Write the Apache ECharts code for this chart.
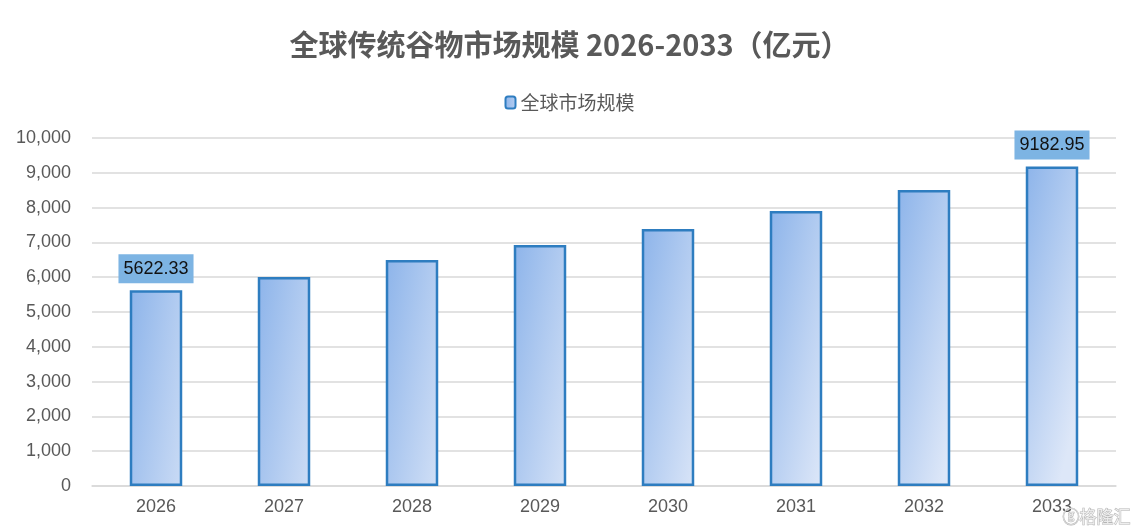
<!DOCTYPE html>
<html><head><meta charset="utf-8">
<script src="https://cdn.jsdelivr.net/npm/echarts@6/dist/echarts.min.js"></script>
<style>html,body{margin:0;padding:0;background:#fff}#c{width:1139px;height:532px}</style>
</head><body><div id="c"></div>
<script>
const categories = ['2026','2027','2028','2029','2030','2031','2032','2033'];
const marketSize = [5622.33, 6005, 6495, 6925, 7385, 7900, 8505, 9182.95];
const labeledIdx = [0, 7];
const chart = echarts.init(document.getElementById('c'));
const font = '"Microsoft YaHei","Noto Sans CJK SC",Arial,sans-serif';
const latin = 'Arial,"Liberation Sans",sans-serif';
chart.setOption({
  animation:false,
  title:{text:'全球传统谷物市场规模 2026-2033（亿元）',left:'center',top:25,
    textStyle:{fontSize:29,fontWeight:'bold',color:'#595959',fontFamily:font}},
  legend:{top:88,left:'center',itemWidth:10,itemHeight:12,itemGap:4,
    textStyle:{fontSize:19,color:'#595959',fontFamily:font},
    data:['全球市场规模']},
  grid:{left:92,right:23,top:138,bottom:46,containLabel:false},
  xAxis:{type:'category',data:categories,
    axisLine:{lineStyle:{color:'#d9d9d9',width:1.5}},axisTick:{show:false},
    axisLabel:{fontSize:18,color:'#595959',margin:12,fontFamily:latin}},
  yAxis:{type:'value',min:0,max:10000,interval:1000,
    axisLine:{show:false},axisTick:{show:false},
    splitLine:{lineStyle:{color:'#d9d9d9',width:1.5}},
    axisLabel:{fontSize:18,color:'#595959',margin:21,fontFamily:latin,
      formatter:v=>v.toLocaleString('en-US')}},
  series:[{name:'全球市场规模',type:'bar',barWidth:'41%',
    data:marketSize.map((v,i)=>({value:v,label:{show:labeledIdx.includes(i)}})),
    itemStyle:{borderColor:'#2e7dc0',borderWidth:2.5,
      color:new echarts.graphic.LinearGradient(0,0,2,0.08,[{offset:0,color:'#8db4ea'},{offset:1,color:'#dde7f8'}])},
    label:{position:'top',distance:7,fontSize:18,color:'#111',backgroundColor:'#7db4e3',
      padding:[6,5,5,5],fontFamily:latin,
      formatter:p=>p.value.toFixed(2)}}],
  graphic:[{type:'text',right:8,bottom:6,z:100,style:{text:'ⓖ格隆汇',fontSize:17,fill:'rgba(255,255,255,0.7)',
    stroke:'#b5b5b5',lineWidth:1,fontFamily:font}}]
});
</script></body></html>
